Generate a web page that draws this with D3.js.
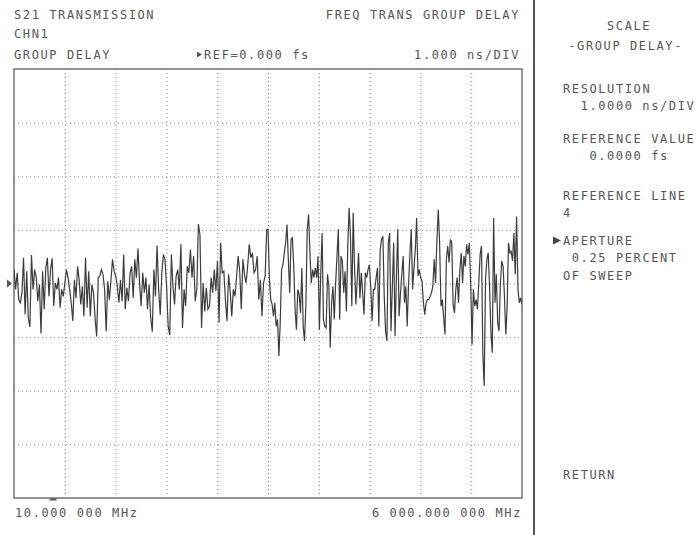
<!DOCTYPE html>
<html>
<head>
<meta charset="utf-8">
<script src="https://cdn.jsdelivr.net/npm/d3@7"></script>
<style>
  html, body { margin: 0; padding: 0; background: #ffffff; }
  svg text { font-family: "DejaVu Sans Mono", "Liberation Mono", monospace; font-size: 12px; letter-spacing: 1.6px; fill: #555555; }
</style>
</head>
<body>
<svg id="chart" width="699" height="535"></svg>
<script>
// ---------- data ----------
const startFreqMHz = 10;
const splitFreqMHz = 2990;
const stopFreqMHz = 6000;
const refValueNs = 0;
const nsPerDiv = 1;
const refLine = 4;            // reference line position (divisions from bottom)
const xDivisions = 10;
const yDivisions = 8;

// group delay (ns), 10 MHz .. ~2990 MHz
const delayLowBandNs = [
  0.26,-0.11,0.20,-0.30,-0.36,-0.17,0.48,-0.58,0.23,-0.64,-0.81,0.53,-0.11,0.26,0.11,-0.33,
  -0.02,-0.93,0.23,-0.48,0.29,0.48,-0.24,0.26,0.47,-0.42,0.01,-0.11,0.11,-0.45,-0.11,-0.24,
  0.01,0.26,0.11,-0.11,-0.36,-0.70,0.07,-0.27,0.32,0.07,-0.39,-0.05,-0.61,0.48,-0.45,0.23,
  -0.61,-0.02,-0.17,-0.64,-0.99,0.11,0.14,0.26,0.17,-0.11,-0.89,0.04,-0.30,0.07,0.45,0.23,
  0.14,-0.05,-0.36,0.07,-0.33,0.54,-0.48,-0.08,-0.33,0.20,0.32,-0.27,0.45,0.11,0.65,0.01,
  -0.42,0.20,-0.17,0.11,-0.48,-0.02,-0.64,-0.90,0.26,-0.24,0.71,-0.11,-0.58,0.20,0.54,0.45,
  -0.05,-0.80,-0.96,0.54,-0.05,-0.39,0.14,0.26,-0.11,0.73,-0.83,-0.11,-0.42,0.32,0.20,0.63,
  0.11,0.51,-0.33,-0.11,1.11,0.91,-0.83,0.01,-0.52,-0.08,-0.48,-0.42,0.11,-0.17,0.26,-0.14,
  0.42,-0.73,0.76,0.20,0.23,-0.30,-0.70,0.17,-0.14,-0.61,-0.11,-0.24,0.11,0.51,0.23,-0.48,
  0.45,0.17,0.01,0.32,0.73,0.48,0.57,0.20,0.26,0.51,-0.30,0.07,-0.61,0.01,0.14,1.01
];

// group delay (ns), ~2990 MHz .. 6000 MHz
const delayHighBandNs = [
  1.01,0.07,-0.30,-0.39,-0.61,-0.36,-0.80,-0.67,-1.35,-0.73,0.26,0.35,0.57,0.76,1.10,0.45,
  -0.17,0.82,0.85,0.32,-0.48,-0.86,-0.11,-0.20,-0.55,0.29,-0.80,-1.07,-0.39,1.01,1.29,0.57,
  0.01,0.26,0.11,0.29,0.11,0.51,-0.86,0.20,0.94,-0.67,-0.80,-0.83,0.17,-0.05,-1.20,-0.39,
  -0.05,-0.67,-0.02,0.51,1.01,-0.67,0.51,0.42,-0.17,0.23,-0.52,0.70,1.41,0.88,-0.42,1.32,
  0.32,-0.39,0.07,0.57,-0.27,0.20,-0.17,-0.58,0.20,0.11,0.26,0.35,-0.05,-0.70,-0.11,-0.11,
  0.11,0.29,-0.80,0.63,0.82,0.88,-0.24,-0.89,-1.07,0.76,0.94,-0.89,-0.05,0.76,-0.98,0.11,
  1.01,-0.61,-0.20,0.17,0.51,-0.36,-0.05,-0.80,-0.02,0.54,1.01,-0.11,0.29,0.63,1.22,0.14,
  0.26,0.11,0.04,-0.36,-0.58,-0.36,-0.30,-0.30,-0.24,-0.17,-0.05,0.45,0.01,0.82,1.38,0.76,
  -0.42,-0.30,-0.64,-0.95,0.45,0.70,0.39,0.82,0.76,-0.39,-0.55,-0.11,0.11,-0.36,0.26,0.57,
  0.01,0.51,0.32,0.73,0.54,0.76,0.01,-1.14,-0.11,-0.42,-0.30,-0.48,0.01,0.54,0.70,-1.32,
  -1.91,0.07,0.45,0.57,-0.08,-0.92,-1.29,1.22,-0.36,0.17,-0.73,-0.89,0.01,0.42,0.32,-0.24,
  -0.95,-0.45,0.76,0.57,0.60,0.42,0.94,0.17,1.25,-0.11,-0.36,-0.27,-0.39
];

const headerLeft = ["S21 TRANSMISSION", "CHN1", "GROUP DELAY"];
const headerRight = ["FREQ TRANS GROUP DELAY", "1.000 ns/DIV"];
const refLabel = "REF=0.000 fs";
const startLabel = "10.000 000 MHz";
const stopLabel = "6 000.000 000 MHz";
const softkeys = [
  { text: "SCALE", indent: 5, y: 30 },
  { text: "-GROUP DELAY-", indent: 0.6, y: 50 },
  { text: "RESOLUTION", indent: 0, y: 93 },
  { text: "1.0000 ns/DIV", indent: 2, y: 110 },
  { text: "REFERENCE VALUE", indent: 0, y: 143 },
  { text: "0.0000 fs", indent: 3, y: 160 },
  { text: "REFERENCE LINE", indent: 0, y: 200 },
  { text: "4", indent: 0, y: 217 },
  { text: "APERTURE", indent: 0, y: 245, active: true },
  { text: "0.25 PERCENT", indent: 1, y: 262 },
  { text: "OF SWEEP", indent: 0, y: 280 },
  { text: "RETURN", indent: 0, y: 479 }
];

// ---------- build trace ----------
const trace = [];
delayLowBandNs.forEach((v, i) => {
  trace.push({ f: startFreqMHz + i * (splitFreqMHz - startFreqMHz) / (delayLowBandNs.length - 1), v });
});
delayHighBandNs.forEach((v, j) => {
  trace.push({ f: splitFreqMHz + (j + 1) * (stopFreqMHz - splitFreqMHz) / delayHighBandNs.length, v });
});

// ---------- layout ----------
const svg = d3.select("#chart");
const plot = { left: 14, right: 522, top: 69, bottom: 498 };
const x = d3.scaleLinear().domain([startFreqMHz, stopFreqMHz]).range([plot.left, plot.right]);
const yMin = refValueNs - refLine * nsPerDiv;
const yMax = refValueNs + (yDivisions - refLine) * nsPerDiv;
const y = d3.scaleLinear().domain([yMin, yMax]).range([plot.bottom, plot.top]);

// grid (dotted)
const xGridTicks = d3.range(1, xDivisions).map(i => startFreqMHz + i * (stopFreqMHz - startFreqMHz) / xDivisions);
const yGridTicks = d3.range(1, yDivisions).map(i => yMin + i * nsPerDiv);

const xGrid = d3.axisBottom(x).tickValues(xGridTicks).tickSize(-(plot.bottom - plot.top)).tickFormat("");
const yGrid = d3.axisLeft(y).tickValues(yGridTicks).tickSize(-(plot.right - plot.left)).tickFormat("");

const gx = svg.append("g").attr("transform", `translate(0,${plot.bottom})`).call(xGrid);
const gy = svg.append("g").attr("transform", `translate(${plot.left},0)`).call(yGrid);
[gx, gy].forEach(g => {
  g.select(".domain").remove();
  g.selectAll(".tick line").attr("stroke", "#8c8c8c").attr("stroke-width", 1)
    .attr("stroke-dasharray", "1,3");
});

// frame
svg.append("rect")
  .attr("x", plot.left).attr("y", plot.top)
  .attr("width", plot.right - plot.left).attr("height", plot.bottom - plot.top)
  .attr("fill", "none").attr("stroke", "#7a7a7a").attr("stroke-width", 1.6);

// clip
svg.append("clipPath").attr("id", "clip").append("rect")
  .attr("x", plot.left).attr("y", plot.top)
  .attr("width", plot.right - plot.left).attr("height", plot.bottom - plot.top);

// trace
const line = d3.line().x(d => x(d.f)).y(d => y(d.v));
svg.append("path")
  .datum(trace)
  .attr("clip-path", "url(#clip)")
  .attr("d", line)
  .attr("fill", "none")
  .attr("stroke", "#3c3c3c")
  .attr("stroke-width", 1.2)
  .attr("stroke-linejoin", "miter");

// reference marker at left
const ry = y(refValueNs);
svg.append("path")
  .attr("d", `M7,${ry - 4} L12,${ry} L7,${ry + 4} Z`)
  .attr("fill", "#555");

// small marker under frame
svg.append("rect").attr("x", x(startFreqMHz + 0.07 * (stopFreqMHz - startFreqMHz))).attr("y", plot.bottom + 0.5)
  .attr("width", 7).attr("height", 2).attr("fill", "#555");

// header texts
svg.append("text").attr("x", 14).attr("y", 19).text(headerLeft[0]);
svg.append("text").attr("x", 14).attr("y", 38).text(headerLeft[1]);
svg.append("text").attr("x", 14).attr("y", 59).text(headerLeft[2]);
svg.append("text").attr("x", 520).attr("y", 19).attr("text-anchor", "end").text(headerRight[0]);
svg.append("text").attr("x", 520).attr("y", 59).attr("text-anchor", "end").text(headerRight[1]);
svg.append("path").attr("d", "M197,51.5 L202,54.5 L197,57.5 Z").attr("fill", "#555");
svg.append("text").attr("x", 204).attr("y", 59).text(refLabel);

// frequency labels
svg.append("text").attr("x", 15).attr("y", 517).text(startLabel);
svg.append("text").attr("x", 522).attr("y", 517).attr("text-anchor", "end").text(stopLabel);

// separator
svg.append("line").attr("x1", 534).attr("x2", 534).attr("y1", 0).attr("y2", 535)
  .attr("stroke", "#555").attr("stroke-width", 2);

// softkeys
const charW = 8.8;
softkeys.forEach(k => {
  const tx = 563 + k.indent * charW;
  svg.append("text").attr("x", tx).attr("y", k.y).text(k.text);
  if (k.active) {
    svg.append("path").attr("d", `M553,${k.y - 8.5} L561,${k.y - 4.5} L553,${k.y - 0.5} Z`).attr("fill", "#444");
  }
});
</script>
</body>
</html>
